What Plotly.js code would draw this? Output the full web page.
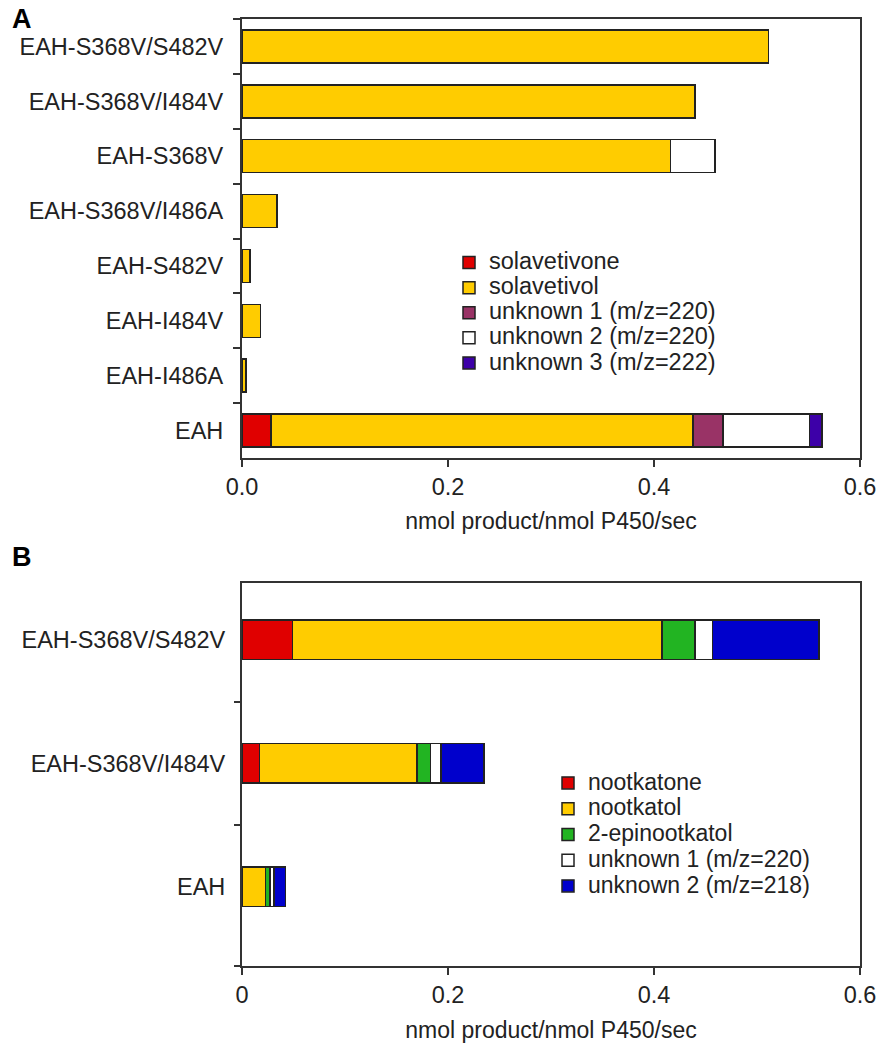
<!DOCTYPE html>
<html>
<head>
<meta charset="utf-8">
<script src="https://cdn.plot.ly/plotly-3.0.1.min.js"></script>
<style>html,body{margin:0;padding:0;background:#fff;}#chart{width:885px;height:1050px;}</style>
</head>
<body>
<div id="chart"></div>
<script>
// ---------- Panel A data ----------
const catsA = ['EAH-S368V/S482V','EAH-S368V/I484V','EAH-S368V','EAH-S368V/I486A','EAH-S482V','EAH-I484V','EAH-I486A','EAH'];
const namesA = ['solavetivone','solavetivol','unknown 1 (m/z=220)','unknown 2 (m/z=220)','unknown 3 (m/z=222)'];
const solavetivone = [null,null,null,null,null,null,null,0.028];
const solavetivol  = [0.511,0.440,0.416,0.034,0.008,0.018,0.004,0.410];
const unknownA1    = [null,null,null,null,null,null,null,0.029];
const unknownA2    = [null,null,0.043,null,null,null,null,0.084];
const unknownA3    = [null,null,null,null,null,null,null,0.012];
const colorsA = ['#e00000','#ffcc00','#993366','#ffffff','#3d00a8'];

// ---------- Panel B data ----------
const catsB = ['EAH-S368V/S482V','EAH-S368V/I484V','EAH'];
const namesB = ['nootkatone','nootkatol','2-epinootkatol','unknown 1 (m/z=220)','unknown 2 (m/z=218)'];
const nootkatone     = [0.049,0.017,null];
const nootkatol      = [0.359,0.153,0.023];
const epinootkatol   = [0.032,0.013,0.004];
const unknownB1      = [0.017,0.010,0.004];
const unknownB2      = [0.103,0.042,0.011];
const colorsB = ['#e00000','#ffcc00','#22b422','#ffffff','#0000cc'];

const seriesA = [solavetivone, solavetivol, unknownA1, unknownA2, unknownA3];
const seriesB = [nootkatone, nootkatol, epinootkatol, unknownB1, unknownB2];

const FONT = 'Liberation Sans, Arial, Helvetica, sans-serif';
const lineCol = '#333333';
const legendLabel = (s, px) => '<span style="font-size:' + px + 'px">' + s + '</span>';

const traces = [];
seriesA.forEach((vals, i) => {
  traces.push({
    type: 'bar', orientation: 'h', x: vals, y: catsA, name: legendLabel(namesA[i], 23.5),
    xaxis: 'x', yaxis: 'y', width: 0.6, legend: 'legend',
    marker: {color: colorsA[i], line: {color: '#222', width: 1.5}},
    hoverinfo: 'x'
  });
});
seriesB.forEach((vals, i) => {
  traces.push({
    type: 'bar', orientation: 'h', x: vals, y: catsB, name: legendLabel(namesB[i], 23),
    xaxis: 'x2', yaxis: 'y2', width: 0.32, legend: 'legend2',
    marker: {color: colorsB[i], line: {color: '#222', width: 1.5}},
    hoverinfo: 'x'
  });
});
// empty helper trace so the tick-only overlay axis of panel B is drawn
traces.push({type: 'scatter', x: [], y: [], xaxis: 'x2', yaxis: 'y3', showlegend: false, hoverinfo: 'skip'});

const tickFont = {family: FONT, size: 23.5, color: '#222'};
const titleFont = {family: FONT, size: 23, color: '#222'};
const xCommon = {
  range: [0, 0.6], tickvals: [0, 0.2, 0.4, 0.6], showgrid: false, zeroline: false,
  showline: true, linecolor: lineCol, linewidth: 2, mirror: true,
  ticks: 'outside', ticklen: 7, tickwidth: 2, tickcolor: lineCol,
  tickfont: tickFont, fixedrange: true
};

const layout = {
  width: 885, height: 1050,
  margin: {l: 0, r: 0, t: 0, b: 0},
  paper_bgcolor: '#ffffff', plot_bgcolor: '#ffffff',
  barmode: 'stack',
  font: {family: FONT, size: 22, color: '#222'},
  xaxis: Object.assign({}, xCommon, {
    domain: [242/885, 860/885], anchor: 'y', tickformat: '.1f',
    title: {text: 'nmol product/nmol P450/sec', font: titleFont, standoff: 14}
  }),
  yaxis: {
    domain: [1 - 458/1050, 1 - 19/1050], anchor: 'x', type: 'category',
    range: [7.5, -0.5], showgrid: false, zeroline: false,
    showline: true, linecolor: lineCol, linewidth: 2, mirror: true,
    ticks: 'outside', ticklen: 7, tickwidth: 2, tickcolor: lineCol,
    tickson: 'boundaries', tickfont: tickFont, ticklabelstandoff: 12, fixedrange: true
  },
  xaxis2: Object.assign({}, xCommon, {
    domain: [242/885, 860/885], anchor: 'y2',
    title: {text: 'nmol product/nmol P450/sec', font: titleFont, standoff: 15}
  }),
  yaxis2: {
    domain: [1 - 966/1050, 1 - 583/1050], anchor: 'x2', type: 'category',
    range: [2.64, -0.46], showgrid: false, zeroline: false,
    showline: true, linecolor: lineCol, linewidth: 2, mirror: true,
    ticks: '', tickfont: tickFont, ticklabelstandoff: 10, fixedrange: true
  },
  yaxis3: {
    overlaying: 'y2', anchor: 'x2', side: 'left', type: 'linear',
    range: [2.64, -0.46], tickvals: [0.5, 1.5, 2.64], showticklabels: false,
    showgrid: false, zeroline: false, showline: false,
    ticks: 'outside', ticklen: 7, tickwidth: 2, tickcolor: lineCol, fixedrange: true
  },
  legend: {
    x: 449/885, y: 1 - 245/1050, xanchor: 'left', yanchor: 'top',
    bgcolor: 'rgba(0,0,0,0)', borderwidth: 0, traceorder: 'normal',
    font: {family: FONT, size: 17, color: '#222'}
  },
  legend2: {
    x: 548/885, y: 1 - 765/1050, xanchor: 'left', yanchor: 'top',
    bgcolor: 'rgba(0,0,0,0)', borderwidth: 0, traceorder: 'normal',
    font: {family: FONT, size: 17.5, color: '#222'}
  },
  annotations: [
    {text: '<b>A</b>', xref: 'paper', yref: 'paper', x: 10/885, y: 1 - 2/1050,
     xanchor: 'left', yanchor: 'top', showarrow: false, font: {family: FONT, size: 27, color: '#000'}},
    {text: '<b>B</b>', xref: 'paper', yref: 'paper', x: 10/885, y: 1 - 540/1050,
     xanchor: 'left', yanchor: 'top', showarrow: false, font: {family: FONT, size: 27, color: '#000'}}
  ]
};

Plotly.newPlot('chart', traces, layout, {displayModeBar: false, staticPlot: true});
</script>
</body>
</html>
